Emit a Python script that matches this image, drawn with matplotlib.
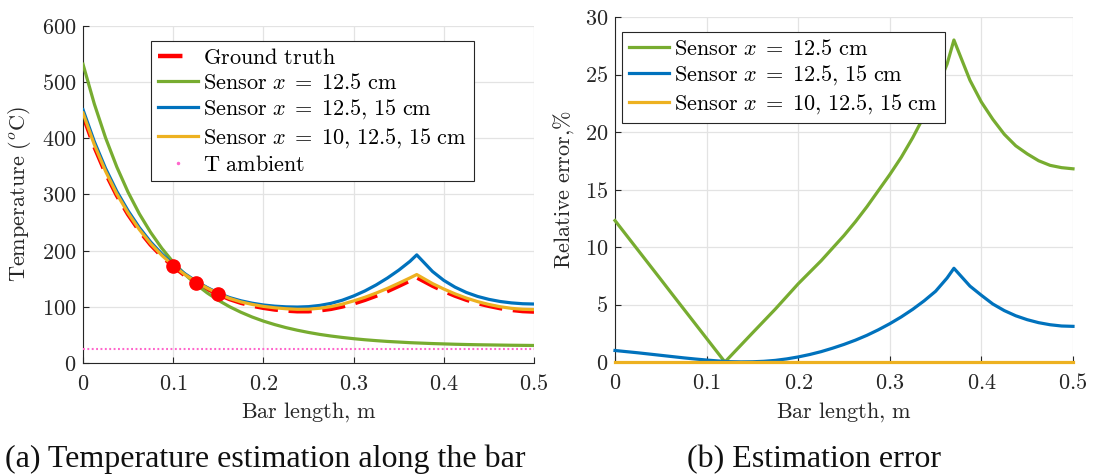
import matplotlib
matplotlib.use("Agg")
import matplotlib.pyplot as plt
from matplotlib.lines import Line2D

# ---------------- data ----------------
x_pos = [0, 0.0125, 0.025, 0.0375, 0.05, 0.0625, 0.075, 0.0875, 0.1, 0.1125,
         0.125, 0.1375, 0.15, 0.1625, 0.175, 0.1875, 0.2, 0.2125, 0.225, 0.2375,
         0.25, 0.2625, 0.275, 0.2875, 0.3, 0.3125, 0.325, 0.3375, 0.35, 0.3625,
         0.37, 0.3875, 0.4, 0.4125, 0.425, 0.4375, 0.45, 0.4625, 0.475, 0.4875, 0.5]
T_ground = [441, 385.5, 338.5, 298.5, 264.7, 235.5, 210.7, 190, 172, 156.7,
            143.5, 132.3, 122.3, 113.8, 107.2, 102.1, 98.2, 95.2, 93.3, 92.1,
            92.1, 93.7, 96.4, 100.6, 106.0, 112.4, 119.8, 128, 137.2, 146.8,
            152.5, 137.6, 128.2, 119.8, 112.6, 106.5, 101.7, 97.6, 94.5, 92.4, 91.5]
T_s1 = [532, 461.5, 401, 349, 304, 265.5, 232.5, 204, 179.5, 158.5,
        140.5, 125, 111.7, 100.2, 90.4, 81.9, 74.6, 68.4, 63, 58.4,
        54.4, 50.9, 48, 45.5, 43.3, 41.4, 39.8, 38.4, 37.3, 36.2,
        35.7, 34.6, 34, 33.4, 32.9, 32.5, 32.2, 31.9, 31.6, 31.4, 31.2]
T_s2 = [451, 394.5, 346.5, 305.5, 271, 241, 215.5, 194, 175.5, 159.5,
        146, 134.5, 124.5, 116.5, 110.8, 106.5, 103.3, 101.2, 100, 99.6,
        100.3, 102.5, 106.2, 111.8, 119.3, 128.3, 139, 151.3, 165.2, 181,
        192.5, 162.9, 147.1, 135.0, 125.6, 118.5, 113.3, 109.5, 107.0, 105.5, 105]
T_s3 = [445, 389, 341.5, 301, 267, 237.5, 212.5, 191.5, 173.5, 158,
        145, 133.5, 123.5, 115, 108.8, 104.3, 100.8, 98.3, 96.6, 95.6,
        95.8, 97.5, 100.4, 104.8, 110.5, 117, 124.5, 132.8, 142, 151.5,
        157.5, 141.4, 131.7, 123.1, 115.6, 109.3, 104.2, 100.2, 97.3, 95.6, 95]
sensor_x = [0.1, 0.125, 0.15]
sensor_T = [172, 143, 122]
amb_x = [0, 0.5]
amb_T = [25, 25]

x_err = [0, 0.0125, 0.025, 0.0375, 0.05, 0.0625, 0.075, 0.0875, 0.1, 0.1125,
         0.12, 0.125, 0.1375, 0.15, 0.1625, 0.175, 0.1875, 0.2, 0.2125, 0.225,
         0.2375, 0.25, 0.2625, 0.275, 0.2875, 0.3, 0.3125, 0.325, 0.3375, 0.35,
         0.3625, 0.37, 0.3875, 0.4, 0.4125, 0.425, 0.4375, 0.45, 0.4625, 0.475,
         0.4875, 0.5]
err_s1 = [12.3, 11.02, 9.74, 8.46, 7.18, 5.89, 4.61, 3.33, 2.05, 0.77,
          0.0, 0.42, 1.47, 2.52, 3.56, 4.6, 5.7, 6.8, 7.8, 8.8,
          9.9, 11.0, 12.2, 13.5, 14.9, 16.3, 17.8, 19.5, 21.4, 23.5,
          25.9, 28.0, 24.5, 22.6, 21.1, 19.8, 18.8, 18.1, 17.5, 17.1,
          16.9, 16.8]
err_s2 = [1.0, 0.9, 0.8, 0.69, 0.58, 0.47, 0.36, 0.26, 0.17, 0.09,
          0.05, 0.03, 0.01, 0.02, 0.06, 0.14, 0.27, 0.44, 0.65, 0.9,
          1.2, 1.53, 1.9, 2.32, 2.8, 3.33, 3.92, 4.58, 5.32, 6.15,
          7.3, 8.15, 6.6, 5.8, 5.04, 4.47, 4.02, 3.68, 3.42, 3.24,
          3.13, 3.1]
x_err3 = [0, 0.5]
err_s3 = [0, 0]

xticks = [0, 0.1, 0.2, 0.3, 0.4, 0.5]
xticklabels = ["$0$", "$0.1$", "$0.2$", "$0.3$", "$0.4$", "$0.5$"]
yticks_T = [0, 100, 200, 300, 400, 500, 600]
yticks_err = [0, 5, 10, 15, 20, 25, 30]

labels_left = [r"$\mathrm{Ground\ truth}$",
               r"$\mathrm{Sensor}\ x\;=\;12.5\ \mathrm{cm}$",
               r"$\mathrm{Sensor}\ x\;=\;12.5{,}\ 15\ \mathrm{cm}$",
               r"$\mathrm{Sensor}\ x\;=\;10{,}\ 12.5{,}\ 15\ \mathrm{cm}$",
               r"$\mathrm{T\ ambient}$"]
labels_right = labels_left[1:4]
caption_a = "(a) Temperature estimation along the bar"
caption_b = "(b) Estimation error"

# ---------------- style ----------------
plt.rcParams['mathtext.fontset'] = 'cm'
plt.rcParams['axes.unicode_minus'] = False

C_RED = '#FF0000'
C_GREEN = '#77AC30'
C_BLUE = '#0072BD'
C_ORANGE = '#EDB120'
C_PINK = '#FF66CC'
C_AX = '#262626'
FS = 16
W, H = 1095, 475

fig = plt.figure(figsize=(W / 100, H / 100), dpi=100)

def frac(x0, y0, x1, y1):
    return [x0 / W, 1 - y1 / H, (x1 - x0) / W, (y1 - y0) / H]

ax1 = fig.add_axes(frac(83, 26, 534, 363))
ax2 = fig.add_axes(frac(615, 17, 1073, 362))

def style(ax, yticks):
    for s in ['top', 'right']:
        ax.spines[s].set_visible(False)
    for s in ['left', 'bottom']:
        ax.spines[s].set_color(C_AX)
        ax.spines[s].set_linewidth(0.8)
    ax.grid(True, color='#E3E3E3', lw=0.9)
    ax.set_axisbelow(True)
    ax.tick_params(direction='in', length=4, width=0.8, colors=C_AX, labelsize=FS)
    ax.tick_params(axis='y', pad=5)
    ax.tick_params(axis='x', pad=8)
    ax.set_xlim(0, 0.5)
    ax.set_xticks(xticks)
    ax.set_xticklabels(xticklabels)
    ax.set_ylim(yticks[0], yticks[-1])
    ax.set_yticks(yticks)
    ax.set_yticklabels(["$%d$" % v for v in yticks])
    ax.set_xlabel(r"$\mathrm{Bar\ length{,}\ m}$", fontsize=FS, color=C_AX)
    ax.xaxis.set_label_coords(0.5, -0.11)

LW = 2.3
# left plot
ax1.plot(x_pos, T_ground, color=C_RED, lw=3.2, dashes=(5.2, 2.4), zorder=2)
ax1.plot(x_pos, T_s1, color=C_GREEN, lw=LW, zorder=3)
ax1.plot(x_pos, T_s2, color=C_BLUE, lw=LW, zorder=3)
ax1.plot(x_pos, T_s3, color=C_ORANGE, lw=LW, zorder=3)
ax1.plot(sensor_x, sensor_T, ls='none', marker='o', ms=9.5, color=C_RED, zorder=5)
ax1.plot(amb_x, amb_T, color=C_PINK, lw=1.5, dashes=(0.9, 1.2), zorder=3)
style(ax1, yticks_T)
ax1.set_ylabel(r"$\mathrm{Temperature}\ (^{o}\mathrm{C})$", fontsize=FS, color=C_AX)
ax1.yaxis.set_label_coords(-0.111, 0.5)

handles1 = [Line2D([], [], color=C_RED, lw=3.2, dashes=(5.5, 4)),
            Line2D([], [], color=C_GREEN, lw=LW),
            Line2D([], [], color=C_BLUE, lw=LW),
            Line2D([], [], color=C_ORANGE, lw=LW),
            Line2D([], [], ls='none', marker='.', ms=3, color=C_PINK)]
leg1 = ax1.legend(handles1, labels_left, loc='upper left',
                  bbox_to_anchor=(151 / W, 1 - 41 / H), bbox_transform=fig.transFigure,
                  borderaxespad=0, fontsize=FS, frameon=True, fancybox=False,
                  edgecolor=C_AX, framealpha=1, handlelength=1.8, handletextpad=0.25,
                  labelspacing=0.22, borderpad=0.3)
leg1.get_frame().set_linewidth(0.8)

# right plot
ax2.plot(x_err, err_s1, color=C_GREEN, lw=LW, zorder=3, clip_on=False)
ax2.plot(x_err, err_s2, color=C_BLUE, lw=LW, zorder=3, clip_on=False)
ax2.plot(x_err3, err_s3, color=C_ORANGE, lw=LW, zorder=4, clip_on=False)
style(ax2, yticks_err)
ax2.set_ylabel(r"$\mathrm{Relative\ error{,}}\%$", fontsize=FS, color=C_AX)
ax2.yaxis.set_label_coords(-0.085, 0.5)

handles2 = [Line2D([], [], color=C_GREEN, lw=LW),
            Line2D([], [], color=C_BLUE, lw=LW),
            Line2D([], [], color=C_ORANGE, lw=LW)]
leg2 = ax2.legend(handles2, labels_right, loc='upper left',
                  bbox_to_anchor=(622 / W, 1 - 32 / H), bbox_transform=fig.transFigure,
                  borderaxespad=0, fontsize=FS, frameon=True, fancybox=False,
                  edgecolor=C_AX, framealpha=1, handlelength=1.8, handletextpad=0.25,
                  labelspacing=0.22, borderpad=0.3)
leg2.get_frame().set_linewidth(0.8)

# captions
fig.text(5 / W, 1 - 467 / H, caption_a,
         family='Liberation Serif', fontsize=23, ha='left', va='baseline', color='#111111')
fig.text(687 / W, 1 - 467 / H, caption_b,
         family='Liberation Serif', fontsize=23, ha='left', va='baseline', color='#111111')

fig.savefig("out.png", dpi=100)
